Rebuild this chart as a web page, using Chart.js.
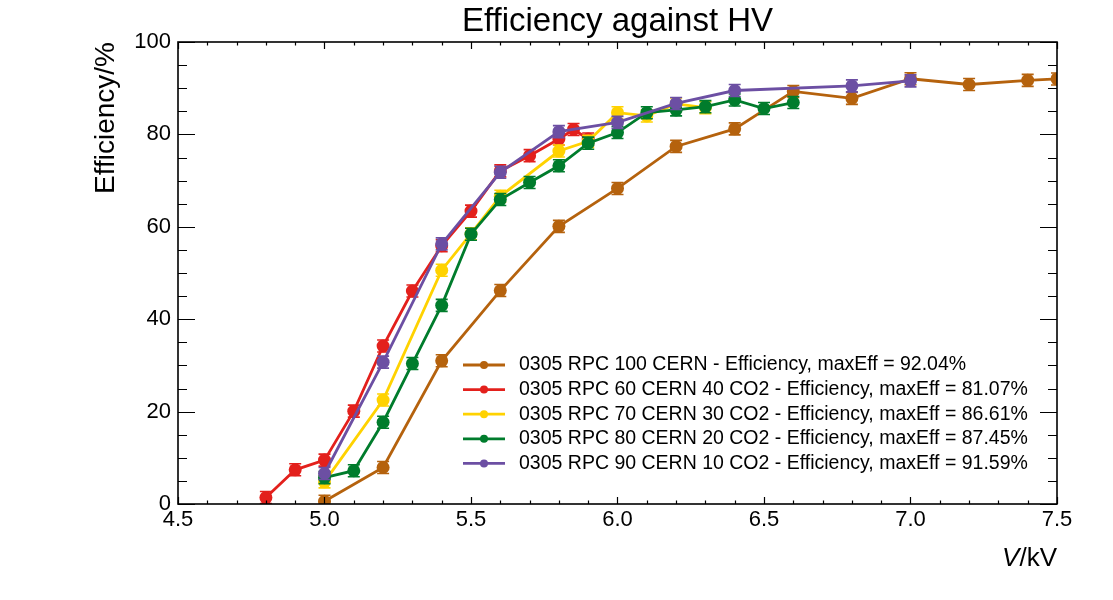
<!DOCTYPE html>
<html>
<head>
<meta charset="utf-8">
<title>Efficiency against HV</title>
<script src="https://cdn.jsdelivr.net/npm/chart.js@4.4.1/dist/chart.umd.min.js"></script>
<style>
    html, body { margin: 0; padding: 0; background: #fff; }
    #wrap { width: 1113px; height: 600px; position: relative; }
</style>
</head>
<body>
<div id="wrap"><canvas id="effChart"></canvas></div>
<script>
// HV points (kV) and efficiency (%) per gas mixture
const HV_100 = [5.0, 5.2, 5.4, 5.6, 5.8, 6.0, 6.2, 6.4, 6.6, 6.8, 7.0, 7.2, 7.4, 7.5];
const EFF_100 = [0.6, 7.9, 31.0, 46.2, 60.1, 68.3, 77.4, 81.2, 89.3, 87.8, 92.04, 90.8, 91.7, 92.0];

const HV_60 = [4.8, 4.9, 5.0, 5.1, 5.2, 5.3, 5.4, 5.5, 5.6, 5.7, 5.8, 5.85, 5.9];
const EFF_60 = [1.4, 7.4, 9.5, 20.1, 34.2, 46.1, 55.9, 63.4, 72.1, 75.4, 79.0, 81.07, 79.0];

const HV_70 = [5.0, 5.2, 5.4, 5.5, 5.6, 5.8, 5.9, 6.0, 6.1, 6.2, 6.3];
const EFF_70 = [4.8, 22.5, 50.6, 58.5, 66.6, 76.4, 78.5, 84.7, 84.0, 86.61, 85.8];

const HV_80 = [5.0, 5.1, 5.2, 5.3, 5.4, 5.5, 5.6, 5.7, 5.8, 5.9, 6.0, 6.1, 6.2, 6.3, 6.4, 6.5, 6.6];
const EFF_80 = [5.7, 7.2, 17.7, 30.4, 43.0, 58.4, 65.9, 69.6, 73.2, 78.1, 80.4, 84.7, 85.3, 86.0, 87.45, 85.6, 86.9];

const HV_90 = [5.0, 5.2, 5.4, 5.6, 5.8, 6.0, 6.2, 6.4, 6.8, 7.0];
const EFF_90 = [6.6, 30.7, 56.3, 71.8, 80.6, 82.6, 86.7, 89.5, 90.5, 91.59];

const SERIES_NAMES = [
    '0305 RPC 100 CERN - Efficiency, maxEff = 92.04%',
    '0305 RPC 60 CERN 40 CO2 - Efficiency, maxEff = 81.07%',
    '0305 RPC 70 CERN 30 CO2 - Efficiency, maxEff = 86.61%',
    '0305 RPC 80 CERN 20 CO2 - Efficiency, maxEff = 87.45%',
    '0305 RPC 90 CERN 10 CO2 - Efficiency, maxEff = 91.59%'
];
const SERIES_HV = [HV_100, HV_60, HV_70, HV_80, HV_90];
const SERIES_EFF = [EFF_100, EFF_60, EFF_70, EFF_80, EFF_90];
const SERIES_COLORS = ['#b5620d', '#e3201c', '#ffd200', '#007c2c', '#6c4fa3'];

const X_TICKS = [4.5, 5.0, 5.5, 6.0, 6.5, 7.0, 7.5];
const Y_TICKS = [0, 20, 40, 60, 80, 100];
const EFF_ERR = 1.3; // error bar half-height, %

Chart.defaults.font.family = "'Liberation Sans', Arial, sans-serif";
Chart.defaults.color = '#000';

// error bars, inward ticks on all sides, frame, legend and x title
const hepStyle = {
    id: 'hepStyle',
    beforeDatasetDraw(chart, args) {
        const ctx = chart.ctx;
        const area = chart.chartArea;
        const ds = chart.data.datasets[args.index];
        const yScale = chart.scales.y;
        ctx.save();
        ctx.beginPath();
        ctx.rect(area.left, area.top, area.right - area.left, area.bottom - area.top);
        ctx.clip();
        ctx.strokeStyle = ds.borderColor;
        ctx.lineWidth = 1.6;
        args.meta.data.forEach((pt, i) => {
            const v = ds.data[i].y;
            const top = yScale.getPixelForValue(v + EFF_ERR);
            const bot = yScale.getPixelForValue(v - EFF_ERR);
            ctx.beginPath();
            ctx.moveTo(pt.x, top); ctx.lineTo(pt.x, bot);
            ctx.moveTo(pt.x - 6, top); ctx.lineTo(pt.x + 6, top);
            ctx.moveTo(pt.x - 6, bot); ctx.lineTo(pt.x + 6, bot);
            ctx.stroke();
        });
        ctx.restore();
    },
    afterDatasetsDraw(chart) {
        const ctx = chart.ctx;
        const a = chart.chartArea;
        const xs = chart.scales.x, ys = chart.scales.y;
        ctx.save();

        // ticks
        ctx.strokeStyle = '#000';
        ctx.lineWidth = 1.2;
        ctx.beginPath();
        for (let v = 4.5; v <= 7.5001; v += 0.1) {
            const px = Math.round(xs.getPixelForValue(v)) + 0.5;
            const major = Math.abs(v * 2 - Math.round(v * 2)) < 1e-6;
            const len = major ? 7 : 3.5;
            ctx.moveTo(px, a.bottom); ctx.lineTo(px, a.bottom - len);
            ctx.moveTo(px, a.top); ctx.lineTo(px, a.top + len);
        }
        for (let v = 0; v <= 100; v += 5) {
            const py = Math.round(ys.getPixelForValue(v)) + 0.5;
            const len = v % 20 === 0 ? 17 : 9;
            ctx.moveTo(a.left, py); ctx.lineTo(a.left + len, py);
            ctx.moveTo(a.right, py); ctx.lineTo(a.right - len, py);
        }
        ctx.stroke();

        // frame
        ctx.lineWidth = 1.6;
        ctx.strokeRect(a.left, a.top, a.right - a.left, a.bottom - a.top);

        // legend
        const lx = a.left + 285, ly = a.top + 323, step = 24.6;
        ctx.font = "19.5px 'Liberation Sans', Arial, sans-serif";
        ctx.textBaseline = 'middle';
        ctx.textAlign = 'left';
        SERIES_NAMES.forEach((name, i) => {
            const y = ly + i * step;
            ctx.strokeStyle = SERIES_COLORS[i];
            ctx.lineWidth = 2.8;
            ctx.beginPath();
            ctx.moveTo(lx, y); ctx.lineTo(lx + 42, y);
            ctx.stroke();
            ctx.fillStyle = SERIES_COLORS[i];
            ctx.beginPath();
            ctx.arc(lx + 21, y, 4, 0, Math.PI * 2);
            ctx.fill();
            ctx.fillStyle = '#000';
            ctx.fillText(name, lx + 56, y);
        });

        // x axis title: italic V / kV
        ctx.textBaseline = 'alphabetic';
        ctx.textAlign = 'right';
        ctx.font = "26px 'Liberation Sans', Arial, sans-serif";
        const unit = '/kV';
        const uw = ctx.measureText(unit).width;
        ctx.fillText(unit, a.right, 566);
        ctx.font = "italic 26px 'Liberation Sans', Arial, sans-serif";
        ctx.fillText('V', a.right - uw, 566);

        ctx.restore();
    }
};

const datasets = SERIES_NAMES.map((name, i) => ({
    label: name,
    data: SERIES_HV[i].map((hv, j) => ({ x: hv, y: SERIES_EFF[i][j] })),
    borderColor: SERIES_COLORS[i],
    backgroundColor: SERIES_COLORS[i],
    borderWidth: 2.8,
    pointRadius: 6.5,
    pointBorderWidth: 0,
    pointHoverRadius: 6.5,
    tension: 0,
    order: SERIES_NAMES.length - i
}));

new Chart(document.getElementById('effChart'), {
    type: 'line',
    data: { datasets: datasets },
    options: {
        responsive: true,
        maintainAspectRatio: false,
        animation: false,
        layout: { padding: { left: 0, right: 56, top: 0, bottom: 0 } },
        plugins: {
            legend: { display: false },
            tooltip: { enabled: false },
            title: {
                display: true,
                text: 'Efficiency against HV',
                fullSize: false,
                color: '#000',
                font: { size: 33, weight: 'normal' },
                padding: { top: 2, bottom: 0.4 }
            }
        },
        scales: {
            x: {
                type: 'linear',
                min: 4.5,
                max: 7.5,
                afterBuildTicks: s => { s.ticks = X_TICKS.map(v => ({ value: v })); },
                afterFit: s => { s.height = 96; },
                ticks: {
                    callback: v => Number(v).toFixed(1),
                    font: { size: 22 },
                    color: '#000',
                    padding: 3,
                    maxRotation: 0,
                    autoSkip: false
                },
                grid: { display: false, drawTicks: false },
                border: { display: false }
            },
            y: {
                type: 'linear',
                min: 0,
                max: 100,
                afterBuildTicks: s => { s.ticks = Y_TICKS.map(v => ({ value: v })); },
                afterFit: s => { s.width = 178; },
                ticks: {
                    font: { size: 22 },
                    color: '#000',
                    padding: 7
                },
                grid: { display: false, drawTicks: false },
                border: { display: false },
                title: {
                    display: true,
                    text: 'Efficiency/%',
                    align: 'end',
                    color: '#000',
                    font: { size: 28 },
                    padding: { top: 89, bottom: 0 }
                }
            }
        }
    },
    plugins: [hepStyle]
});
</script>
</body>
</html>
